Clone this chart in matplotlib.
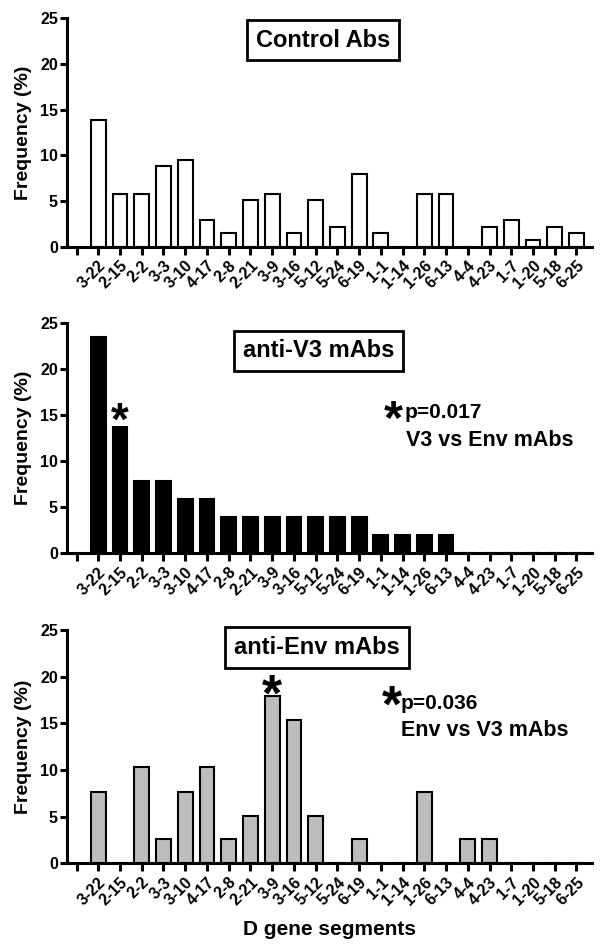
import matplotlib
matplotlib.use("Agg")
import matplotlib.pyplot as plt
import numpy as np

plt.rcParams["font.family"] = ["Liberation Sans", "DejaVu Sans"]
plt.rcParams["font.weight"] = "bold"

segments = ["3-22", "2-15", "2-2", "3-3", "3-10", "4-17", "2-8", "2-21", "3-9",
            "3-16", "5-12", "5-24", "6-19", "1-1", "1-14", "1-26", "6-13", "4-4",
            "4-23", "1-7", "1-20", "5-18", "6-25"]

control_freq = [13.9, 5.8, 5.8, 8.8, 9.5, 2.9, 1.5, 5.1, 5.8, 1.5, 5.1, 2.2,
                8.0, 1.5, 0, 5.8, 5.8, 0, 2.2, 2.9, 0.7, 2.2, 1.5]
v3_freq = [23.5, 13.7, 7.8, 7.8, 5.9, 5.9, 3.9, 3.9, 3.9, 3.9, 3.9, 3.9,
           3.9, 2.0, 2.0, 2.0, 2.0, 0, 0, 0, 0, 0, 0]
env_freq = [7.7, 0, 10.3, 2.6, 7.7, 10.3, 2.6, 5.1, 17.9, 15.4, 5.1, 0,
            2.6, 0, 0, 7.7, 0, 2.6, 2.6, 0, 0, 0, 0]

titles = ["Control Abs", "anti-V3 mAbs", "anti-Env mAbs"]
colors = ["white", "black", "#bdbdbd"]

fig = plt.figure(figsize=(6.05, 9.49), dpi=100)
rects = [
    [0.110, 0.7401, 0.868, 0.2406],
    [0.110, 0.4170, 0.868, 0.2424],
    [0.110, 0.0901, 0.868, 0.2460],
]
title_pos = [(0.488, 0.905), (0.480, 0.880), (0.477, 0.925)]

x = np.arange(1, len(segments) + 1)
axes = []
for k, (vals, rect) in enumerate(zip([control_freq, v3_freq, env_freq], rects)):
    ax = fig.add_axes(rect)
    axes.append(ax)
    ax.bar(x, vals, width=0.68, color=colors[k], edgecolor="black", linewidth=1.5)
    ax.set_xlim(-0.46, 23.7)
    ax.set_ylim(0, 25)
    ax.set_yticks([0, 5, 10, 15, 20, 25])
    ax.set_xticks(np.arange(0, 24))
    ax.set_xticklabels([""] + segments, rotation=45, ha="right", va="top",
                       rotation_mode="anchor", fontsize=11.5, fontweight="bold")
    ax.tick_params(axis="x", length=5.5, width=2.2, pad=2.5)
    ax.tick_params(axis="y", length=5, width=2.2, labelsize=11.5, pad=1.2)
    for lab in ax.get_yticklabels():
        lab.set_fontweight("bold")
    for side in ["top", "right"]:
        ax.spines[side].set_visible(False)
    for side in ["left", "bottom"]:
        ax.spines[side].set_linewidth(2.2)
    ax.set_ylabel("Frequency (%)", fontsize=14, fontweight="bold")
    ax.yaxis.set_label_coords(-0.066, 0.5)
    ax.text(title_pos[k][0], title_pos[k][1], titles[k], transform=ax.transAxes,
            ha="center", va="center", fontsize=17, fontweight="bold",
            bbox=dict(boxstyle="square,pad=0.37", facecolor="white",
                      edgecolor="black", linewidth=2))

# significance marks
ax2 = axes[1]
ax2.text(2, 12.9, "*", ha="center", va="baseline", fontsize=33, fontweight="bold")
ax2.text(0.623, 0.524, "*", transform=ax2.transAxes, ha="center", va="baseline",
         fontsize=35, fontweight="bold")
ax2.text(0.643, 0.588, "p=0.017", transform=ax2.transAxes, ha="left",
         va="baseline", fontsize=15, fontweight="bold")
ax2.text(0.646, 0.4665, "V3 vs Env mAbs", transform=ax2.transAxes, ha="left",
         va="baseline", fontsize=15.5, fontweight="bold")

ax3 = axes[2]
ax3.text(9, 16.4, "*", ha="center", va="baseline", fontsize=37, fontweight="bold")
ax3.text(0.62, 0.609, "*", transform=ax3.transAxes, ha="center", va="baseline",
         fontsize=37, fontweight="bold")
ax3.text(0.636, 0.660, "p=0.036", transform=ax3.transAxes, ha="left",
         va="baseline", fontsize=15, fontweight="bold")
ax3.text(0.636, 0.546, "Env vs V3 mAbs", transform=ax3.transAxes, ha="left",
         va="baseline", fontsize=15.5, fontweight="bold")
ax3.set_xlabel("D gene segments", fontsize=15, fontweight="bold")
ax3.xaxis.set_label_coords(0.5015, -0.243)

fig.savefig("out.png", dpi=100)
